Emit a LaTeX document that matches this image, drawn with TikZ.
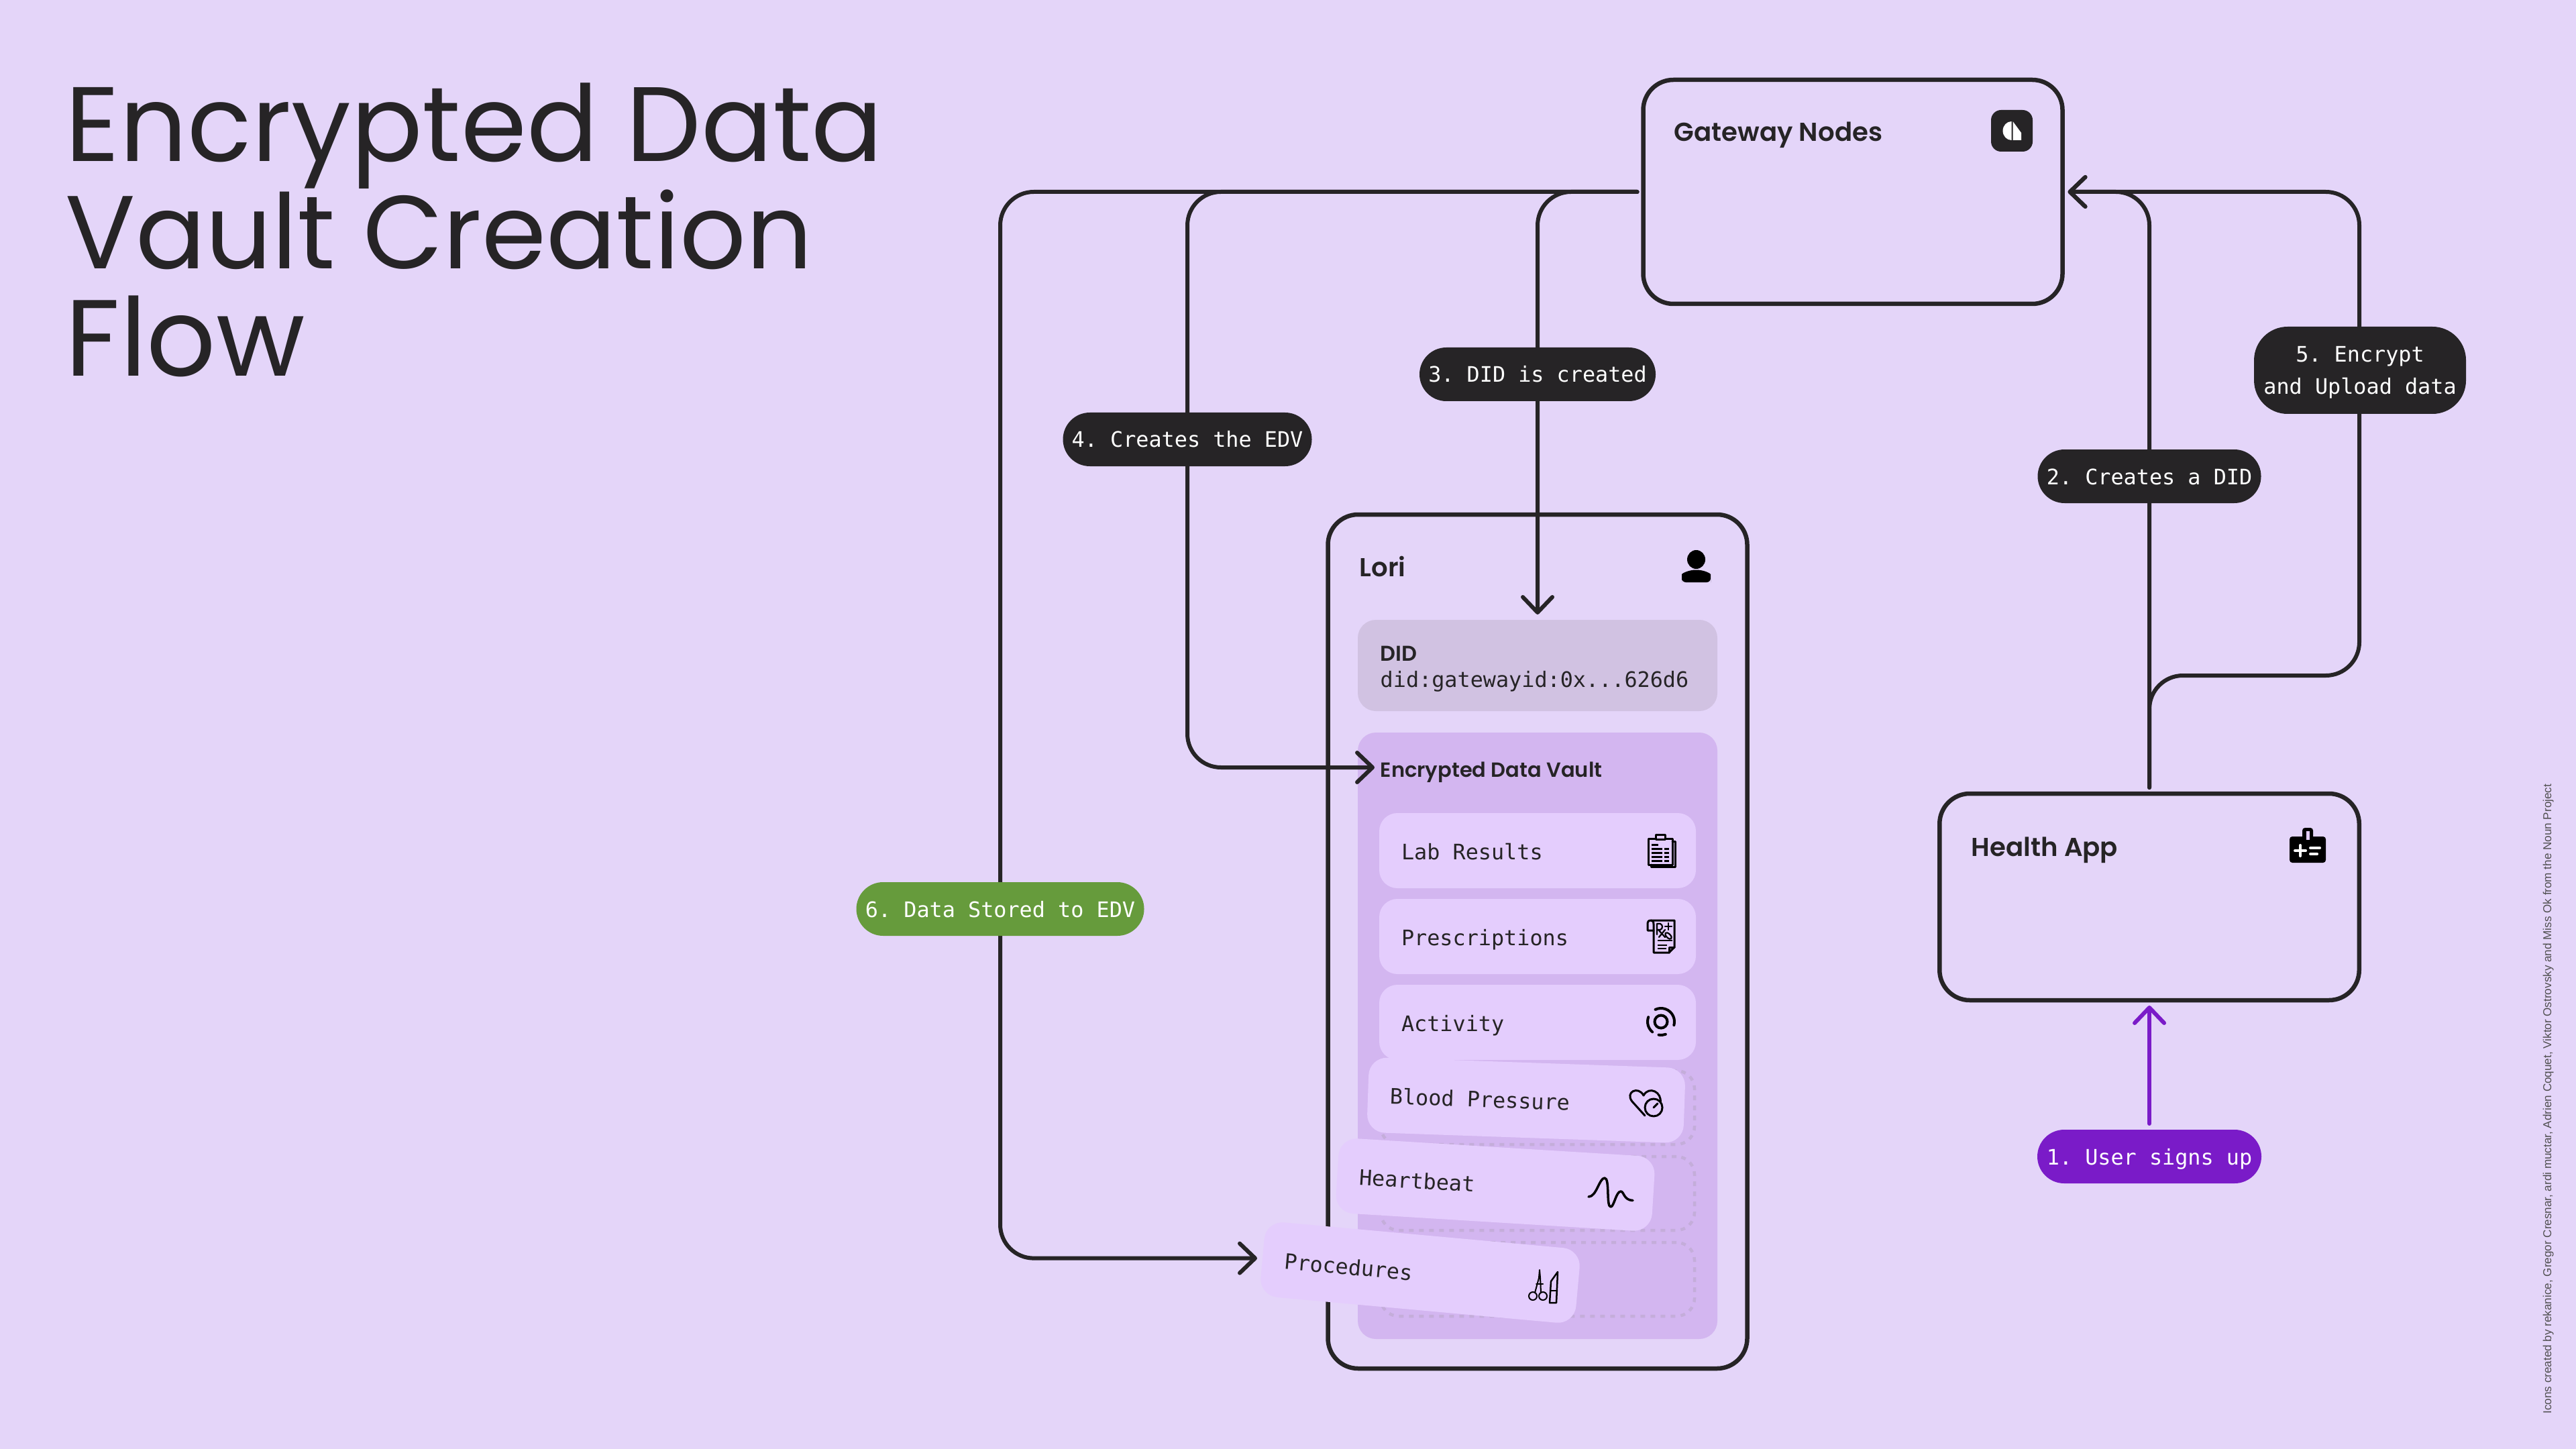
\documentclass[tikz,border=0pt]{standalone}
\usepackage{fontspec}
\setmainfont{Liberation Sans}
\setmonofont{DejaVu Sans Mono}
\newfontfamily\titlefont{Poppins}
\newfontfamily\headfont{Poppins SemiBold}
\usetikzlibrary{arrows.meta}
\definecolor{pagebg}{HTML}{E4D5F9}
\definecolor{inkdark}{HTML}{262426}
\definecolor{didfill}{HTML}{D1C2E2}
\definecolor{vaultfill}{HTML}{D3B6F0}
\definecolor{recordfill}{HTML}{E4CDFD}
\definecolor{slotline}{HTML}{C4ADDA}
\definecolor{signpurple}{HTML}{7A1BC8}
\definecolor{storegreen}{HTML}{669B3C}
\tikzset{
  bigbox/.style={draw=inkdark,line width=.065cm,rounded corners=.45cm,inner sep=0pt,outer sep=0pt},
  panel/.style={rounded corners=.27cm,inner sep=0pt,outer sep=0pt},
  heading/.style={anchor=base west,inner sep=0pt,text=inkdark,font=\headfont\fontsize{11}{13}\selectfont},
  smallheading/.style={heading,font=\headfont\fontsize{8.7}{11}\selectfont},
  monotext/.style={anchor=base west,inner sep=0pt,text=inkdark,font=\ttfamily\fontsize{9.05}{11}\selectfont},
  record/.style={panel,fill=recordfill,text=inkdark,font=\ttfamily\fontsize{9.05}{11}\selectfont,
    text width=4.06cm,inner xsep=.33cm,minimum height=1.12cm,align=flush left,text height=.32cm,text depth=.06cm},
  slot/.style={panel,draw=slotline,line width=.045cm,dash pattern=on .07cm off .08cm,minimum width=4.68cm,minimum height=1.1cm},
  stepbox/.style={fill=inkdark,text=white,rounded corners=.4cm,inner sep=0pt,outer sep=0pt,align=center,
    minimum height=.8cm,text height=.30cm,text depth=.06cm,font=\ttfamily\fontsize{9.05}{13.9}\selectfont},
  flow/.style={draw=inkdark,line width=.06cm,rounded corners=.5cm,line cap=round,
    -{Straight Barb[length=.23cm,width=.44cm,round]},shorten >=.08cm,shorten <=.09cm},
  icon/.style={draw=black,line width=.03cm,line cap=round,line join=round},
  titleline/.style={anchor=base west,inner sep=0pt,text=inkdark},
}
\begin{document}
\begin{tikzpicture}[y=-1cm]
\fill[pagebg] (0,0) rectangle (38.4,21.6);
\useasboundingbox (0,0) rectangle (38.4,21.6);

\node[titleline,font=\titlefont\fontsize{44.9}{50}\selectfont] (title1) at (.97,2.41) {Encrypted Data};
\node[titleline,font=\titlefont\fontsize{44}{50}\selectfont] (title2) at (.97,4.01) {Vault Creation};
\node[titleline,font=\titlefont\fontsize{46}{50}\selectfont] (title3) at (.97,5.61) {Flow};

\node[bigbox,minimum width=6.25cm,minimum height=3.34cm] (gateway) at (27.62,2.86) {};
\node[bigbox,minimum width=6.255cm,minimum height=3.08cm] (health) at (32.04,13.37) {};
\node[bigbox,minimum width=6.25cm,minimum height=12.73cm] (lori) at (22.92,14.035) {};
\node[heading] (gatewaytitle) at (24.95,2.11) {Gateway Nodes};
\node[heading] (healthtitle) at (29.38,12.76) {Health App};
\node[heading] (loritile) at (20.26,8.59) {Lori};

\node[panel,fill=didfill,minimum width=5.36cm,minimum height=1.36cm] (did) at (22.92,9.92) {};
\node[smallheading,font=\headfont\fontsize{9.1}{11}\selectfont] (didtitle) at (20.57,9.85) {DID};
\node[monotext] (didvalue) at (20.57,10.24) {did:gatewayid:0x...626d6};

\node[panel,fill=vaultfill,minimum width=5.36cm,minimum height=9.04cm] (vault) at (22.92,15.44) {};
\node[smallheading] (vaulttitle) at (20.57,11.58) {Encrypted Data Vault};

\node[record] (lab) at (22.92,12.68) {Lab Results};
\node[record] (rx) at (22.92,13.96) {Prescriptions};
\node[record] (activity) at (22.92,15.24) {Activity};
\foreach \y in {16.51,17.79,19.07}{
  \node[slot] at (22.92,\y) {};
}
\node[record,rotate=-2] (blood) at (22.75,16.40) {Blood Pressure};
\node[record,rotate=-3.5] (heart) at (22.29,17.66) {Heartbeat};
\node[record,rotate=-5.2] (procedures) at (21.17,18.97) {Procedures};

\coordinate (turn3) at (22.92,5.58);
\coordinate (turn4) at (17.70,11.44);
\coordinate (turn6) at (14.91,0 |- procedures.west);
\coordinate (turn5) at (35.17,10.07);
\coordinate (turn2) at (32.04,7.10);
\draw[flow] (gateway.west) -| (did.north);
\draw[flow] (gateway.west) -| (turn4) -- (turn4 -| vaulttitle.west);
\draw[flow] (gateway.west) -| (turn6) -- (procedures.west);
\draw[flow] (health.north) |- (gateway.east);
\draw[flow] (health.north) |- (turn5) |- (gateway.east);

\node[stepbox,fill=signpurple,minimum width=3.34cm] (step1) at (32.04,17.24) {1. User signs up};
\node[stepbox,minimum width=3.33cm] (step2) at (turn2) {2. Creates a DID};
\node[stepbox,minimum width=3.52cm] (step3) at (turn3) {3. DID is created};
\node[stepbox,minimum width=3.71cm] (step4) at (17.70,6.55) {4. Creates the EDV};
\node[stepbox,minimum width=3.16cm,minimum height=1.3cm,rounded corners=.5cm,text height=.78cm] (step5) at (35.18,5.52) {5. Encrypt\\and Upload data};
\node[stepbox,fill=storegreen,minimum width=4.29cm] (step6) at (14.91,13.55) {6. Data Stored to EDV};
\draw[flow,draw=signpurple] (step1.north) -- (health.south);

% gateway mark
\fill[inkdark,rounded corners=.15cm] (29.68,1.64) rectangle (30.30,2.26);
\fill[white] (29.985,1.81) arc (-90:-270:.13 and .14) -- cycle;
\fill[white] (30.005,1.81) -- (30.13,1.98) -- (30.13,2.09) -- (30.005,2.09) -- cycle;

% person
\fill[black] (25.285,8.34) ellipse (.135 and .14);
\fill[black,rounded corners=.06cm] (25.07,8.68) -- (25.07,8.62) arc (180:360:.215 and .125) -- (25.50,8.68) -- cycle;

% bag
\fill[black,rounded corners=.04cm] (34.13,12.47) rectangle (34.67,12.86);
\fill[black,rounded corners=.04cm] (34.32,12.34) rectangle (34.48,12.52);
\fill[recordfill] (34.375,12.39) rectangle (34.43,12.52);
\draw[white,line width=.04cm,line cap=round] (34.21,12.68) -- (34.37,12.68) (34.29,12.60) -- (34.29,12.76) (34.44,12.64) -- (34.58,12.64) (34.44,12.73) -- (34.54,12.73);

% clipboard
\draw[icon] (24.57,12.50) rectangle (24.93,12.89);
\draw[icon] (24.93,12.54) -- (24.97,12.54) -- (24.97,12.92) -- (24.61,12.92) -- (24.61,12.89);
\draw[icon,fill=recordfill] (24.68,12.44) rectangle (24.82,12.51);
\foreach \y in {12.65,12.71,12.77,12.83}{
  \draw[black,line width=.03cm] (24.62,\y) -- (24.78,\y);
  \draw[black,line width=.03cm] (24.81,\y) -- (24.88,\y);
}
\draw[black,line width=.03cm] (24.62,12.59) -- (24.72,12.59);

% prescription sheet
\draw[icon] (24.65,13.87) -- (24.65,14.20) -- (24.88,14.20) -- (24.96,14.12) -- (24.96,13.72) -- (24.61,13.72) .. controls (24.57,13.72) and (24.56,13.74) .. (24.56,13.78) -- (24.56,13.87) -- (24.65,13.87);
\draw[icon] (24.61,13.72) .. controls (24.64,13.72) and (24.65,13.74) .. (24.65,13.78) -- (24.65,13.87);
\draw[icon] (24.88,14.20) -- (24.88,14.12) -- (24.96,14.12);
\draw[icon,line width=.022cm] (24.70,13.93) -- (24.70,13.77) -- (24.75,13.77) .. controls (24.79,13.79) and (24.79,13.84) .. (24.75,13.86) -- (24.70,13.86) (24.72,13.86) -- (24.82,13.97) (24.82,13.86) -- (24.73,13.97);
\draw[icon,line width=.022cm] (24.87,13.76) -- (24.87,13.86) (24.82,13.81) -- (24.92,13.81);
\draw[icon,line width=.022cm,rotate around={-45:(24.87,13.95)}] (24.87,13.95) ellipse (.06 and .03);
\foreach \y/\xend in {14.02/24.93,14.09/24.85,14.14/24.84}{
  \draw[black,line width=.022cm] (24.71,\y) -- (\xend,\y);
}

% activity ring
\draw[black,line width=.04cm] (24.76,15.23) circle (.095);
\draw[black,line width=.04cm,line cap=round] (24.76,15.23) ++(-115:.2) arc (-115:15:.2);
\draw[black,line width=.04cm,line cap=round] (24.76,15.23) ++(-160:.2) arc (-160:-230:.2);
\draw[black,line width=.04cm,line cap=round] (24.76,15.23) ++(100:.2) arc (100:70:.2);

% heart and gauge
\draw[icon] (24.52,16.63) -- (24.33,16.42) .. controls (24.22,16.28) and (24.42,16.18) .. (24.50,16.33) .. controls (24.58,16.18) and (24.78,16.28) .. (24.75,16.44);
\draw[icon,fill=recordfill] (24.65,16.51) circle (.13);
\draw[icon] (24.65,16.51) -- (24.71,16.45);

% pulse
\draw[icon,line width=.035cm] (23.68,17.84) .. controls (23.80,17.84) and (23.84,17.56) .. (23.92,17.56) .. controls (24.00,17.56) and (23.94,17.99) .. (24.01,17.99) .. controls (24.06,17.99) and (24.09,17.76) .. (24.16,17.76) .. controls (24.21,17.76) and (24.20,17.89) .. (24.34,17.895);

% scissors and scalpel
\draw[icon,line width=.02cm] (22.85,19.32) circle (.06) (23.00,19.32) circle (.06);
\draw[icon,line width=.02cm] (22.88,19.27) -- (22.94,19.05) -- (22.95,18.93) -- (22.96,19.05) -- (22.97,19.27);
\draw[icon,line width=.02cm] (22.90,19.14) -- (23.00,19.14);
\draw[icon,line width=.025cm] (23.10,19.42) -- (23.12,19.10) -- (23.22,18.96) -- (23.20,19.42) -- cycle;
\draw[icon,line width=.02cm] (23.11,19.24) -- (23.21,19.24);

\node[rotate=90,anchor=base west,inner sep=0pt,text=inkdark!80,font=\fontsize{4.86}{6}\selectfont] (credit) at (38.03,21.08) {Icons created by rekanice, Gregor Cresnar, ardi muctar, Adrien Coquet, Viktor Ostrovsky and Miss Ok from the Noun Project};
\end{tikzpicture}
\end{document}
